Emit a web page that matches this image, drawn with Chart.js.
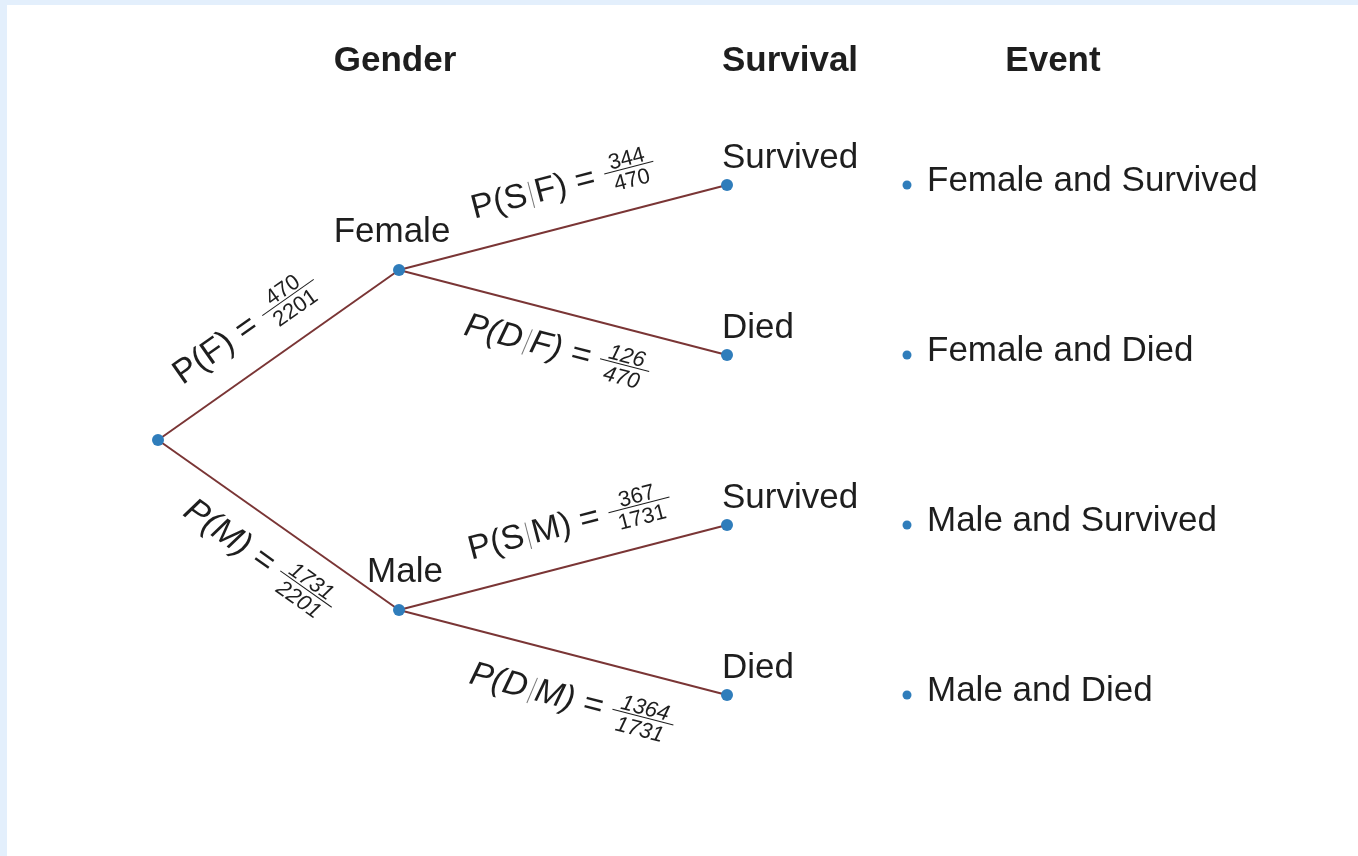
<!DOCTYPE html>
<html>
<head>
<meta charset="utf-8">
<script src="https://cdn.jsdelivr.net/npm/chart.js@4.4.1/dist/chart.umd.min.js"></script>
<style>
  html, body { margin: 0; padding: 0; background: #e3effc; }
  #wrap { position: absolute; left: 7px; top: 5px; width: 1351px; height: 851px; background: #fff; }
</style>
</head>
<body>
<div id="wrap"><canvas id="tree" width="1351" height="851"></canvas></div>
<script>
// tree data
const stages = ['Gender', 'Survival', 'Event'];
const nodeNames = ['', 'Female', 'Male', 'Survived', 'Died', 'Survived', 'Died'];
const nodeStage = [0, 1, 1, 2, 2, 2, 2];
const nodeLevel = [0, 2, -2, 3, 1, -1, -3];
const edges = [[0, 1], [0, 2], [1, 3], [1, 4], [2, 5], [2, 6]];
const edgeGiven = [null, null, 'F', 'F', 'M', 'M'];
const edgeEvent = ['F', 'M', 'S', 'D', 'S', 'D'];
const numer = [470, 1731, 344, 126, 367, 1364];
const denom = [2201, 2201, 470, 470, 1731, 1731];
const events = ['Female and Survived', 'Female and Died', 'Male and Survived', 'Male and Died'];

// layout (x position of each column, in 100px units from the root)
const stageX = [0, 2.41, 5.69, 7.49];
const headerX = [2.37, 6.32, 8.95];
const headerLevel = 4.45;
const probLayout = [
  { t: 0.46, off: 40, italic: false },
  { t: 0.51, off: -38, italic: true },
  { t: 0.53, off: 40, italic: false },
  { t: 0.51, off: -37, italic: true },
  { t: 0.55, off: 40, italic: false },
  { t: 0.56, off: -44, italic: true }
];

const LINE = '#7a3535';
const DOT = '#2f7dbb';
const TEXT = '#1e1e1e';
const FONT = '"Liberation Sans", Arial, sans-serif';

const nodePts = nodeStage.map((s, i) => ({ x: stageX[s], y: nodeLevel[i] }));
const leafIdx = [3, 4, 5, 6];
const eventPts = leafIdx.map(i => ({ x: stageX[3], y: nodeLevel[i] }));

const datasets = [
  { data: nodePts, pointRadius: 6, pointBackgroundColor: DOT, pointBorderWidth: 0, showLine: false, order: 0 },
  { data: eventPts, pointRadius: 4.5, pointBackgroundColor: DOT, pointBorderWidth: 0, showLine: false, order: 0 }
];
edges.forEach(([a, b]) => {
  datasets.push({
    data: [nodePts[a], nodePts[b]],
    showLine: true, borderColor: LINE, borderWidth: 2, pointRadius: 0, order: 1
  });
});

const labels = {
  id: 'treeLabels',
  afterDatasetsDraw(chart) {
    const ctx = chart.ctx;
    const xs = chart.scales.x, ys = chart.scales.y;
    const px = v => xs.getPixelForValue(v);
    const py = v => ys.getPixelForValue(v);
    ctx.save();
    ctx.fillStyle = TEXT;

    // column headers
    ctx.font = 'bold 35px ' + FONT;
    ctx.textAlign = 'center';
    ctx.textBaseline = 'middle';
    stages.forEach((s, i) => ctx.fillText(s, px(headerX[i]), py(headerLevel)));

    // node names
    ctx.font = '35px ' + FONT;
    nodeNames.forEach((n, i) => {
      if (!n) return;
      const x = px(nodePts[i].x), y = py(nodePts[i].y);
      if (nodeStage[i] === 1) {
        ctx.textAlign = 'center';
        ctx.fillText(n, x + (i === 1 ? -7 : 6), y - 38);
      } else {
        ctx.textAlign = 'left';
        ctx.fillText(n, x - 5, y - 27);
      }
    });

    // events
    ctx.textAlign = 'left';
    events.forEach((e, i) => ctx.fillText(e, px(eventPts[i].x) + 20, py(eventPts[i].y) - 4));

    // branch probabilities
    edges.forEach(([a, b], k) => {
      const x1 = px(nodePts[a].x), y1 = py(nodePts[a].y);
      const x2 = px(nodePts[b].x), y2 = py(nodePts[b].y);
      const ang = Math.atan2(y2 - y1, x2 - x1);
      const L = probLayout[k];
      const cx = x1 + (x2 - x1) * L.t + Math.sin(ang) * L.off;
      const cy = y1 + (y2 - y1) * L.t - Math.cos(ang) * L.off;
      ctx.save();
      ctx.translate(cx, cy);
      ctx.rotate(ang);
      const it = L.italic ? 'italic ' : '';
      const mainFont = it + '34px ' + FONT;
      const fracFont = it + '22px ' + FONT;
      ctx.font = mainFont;
      // pieces: "P(S", bar, "F) ="
      let left, right;
      if (edgeGiven[k]) { left = 'P(' + edgeEvent[k]; right = edgeGiven[k] + ') ='; }
      else { left = 'P(' + edgeEvent[k] + ') ='; right = ''; }
      const wL = ctx.measureText(left).width;
      const barGap = edgeGiven[k] ? 9 : 0;
      const wR = right ? ctx.measureText(right).width : 0;
      const wM = wL + barGap + wR;
      ctx.font = fracFont;
      const n = String(numer[k]), d = String(denom[k]);
      const wF = Math.max(ctx.measureText(n).width, ctx.measureText(d).width) + 14;
      const gap = 10;
      const total = wM + gap + wF;
      const x0 = -total / 2;
      ctx.font = mainFont;
      ctx.textAlign = 'left';
      ctx.textBaseline = 'middle';
      ctx.fillText(left, x0, 0);
      if (right) {
        ctx.fillText(right, x0 + wL + barGap, 0);
        ctx.strokeStyle = '#777';
        ctx.lineWidth = 1;
        ctx.beginPath();
        const bx = x0 + wL + barGap / 2 + (L.italic ? 1 : 0);
        ctx.moveTo(bx + (L.italic ? 2 : 0), -13);
        ctx.lineTo(bx - (L.italic ? 2 : 0), 14);
        ctx.stroke();
      }
      const fx = x0 + wM + gap + wF / 2;
      ctx.font = fracFont;
      ctx.textAlign = 'center';
      ctx.textBaseline = 'alphabetic';
      ctx.fillText(n, fx, -4);
      ctx.textBaseline = 'top';
      ctx.fillText(d, fx, 1);
      ctx.strokeStyle = TEXT;
      ctx.lineWidth = 1;
      ctx.beginPath();
      ctx.moveTo(fx - wF / 2, -1.5);
      ctx.lineTo(fx + wF / 2, -1.5);
      ctx.stroke();
      ctx.restore();
    });
    ctx.restore();
  }
};

new Chart(document.getElementById('tree').getContext('2d'), {
  type: 'scatter',
  data: { datasets },
  options: {
    responsive: false,
    animation: false,
    layout: { padding: 0, autoPadding: false },
    plugins: { legend: { display: false }, tooltip: { enabled: false } },
    scales: {
      x: { display: false, min: -1.51, max: 12.0 },
      y: { display: false, min: -4.894, max: 5.1176 }
    }
  },
  plugins: [labels]
});
</script>
</body>
</html>
